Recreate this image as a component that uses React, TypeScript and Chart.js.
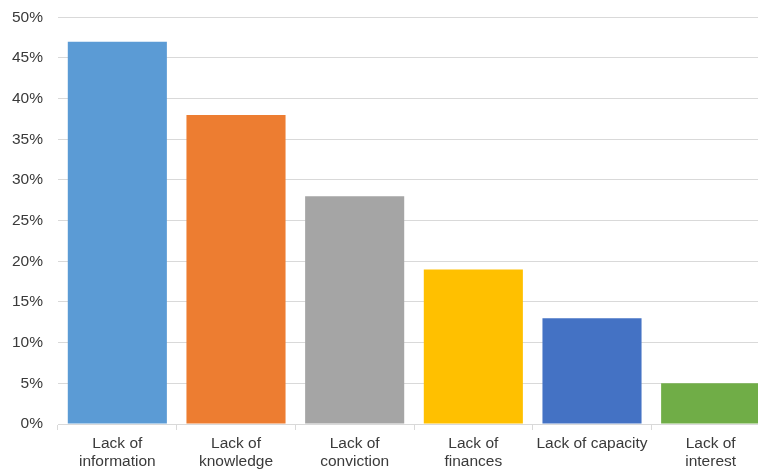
import React, { useEffect, useRef } from "react";
import { Chart, registerables } from "chart.js";

Chart.register(...registerables);

const categories: (string | string[])[] = [
  ["Lack of", "information"],
  ["Lack of", "knowledge"],
  ["Lack of", "conviction"],
  ["Lack of", "finances"],
  "Lack of capacity",
  ["Lack of", "interest"],
];
const values = [47, 38, 28, 19, 13, 5];
const barColors = ["#5B9BD5", "#ED7D31", "#A5A5A5", "#FFC000", "#4472C4", "#70AD47"];
const yMax = 50;
const yStep = 5;

export default function App() {
  const ref = useRef<HTMLCanvasElement>(null);
  useEffect(() => {
    document.body.style.margin = "0";
    document.body.style.overflow = "hidden";
    const ctx = ref.current!;
    const chart = new Chart(ctx, {
      type: "bar",
      data: {
        labels: categories,
        datasets: [
          {
            data: values,
            backgroundColor: barColors,
            borderWidth: 0,
            categoryPercentage: 0.835,
            barPercentage: 1,
          },
        ],
      },
      options: {
        animation: false,
        responsive: false,
        maintainAspectRatio: false,
        layout: { padding: { top: 10, right: 0, left: 0, bottom: 0 } },
        plugins: { legend: { display: false }, tooltip: { enabled: false } },
        scales: {
          x: {
            grid: {
              offset: true,
              drawOnChartArea: false,
              drawTicks: true,
              tickLength: 6,
              color: "#d9d9d9",
            },
            border: { display: true, color: "#d9d9d9" },
            ticks: {
              color: "#3a3a3a",
              font: { family: "'Liberation Sans', Arial, sans-serif", size: 15.5 },
              padding: 4,
              maxRotation: 0,
              autoSkip: false,
            },
            afterFit: (s: any) => {
              s.height = 48;
            },
          },
          y: {
            min: 0,
            max: yMax,
            grid: { color: "#d9d9d9", drawTicks: false },
            border: { display: false },
            ticks: {
              stepSize: yStep,
              color: "#3a3a3a",
              font: { family: "'Liberation Sans', Arial, sans-serif", size: 15.5 },
              padding: 15,
              callback: (v: any) => v + "%",
            },
            afterFit: (s: any) => {
              s.width = 58;
            },
          },
        },
      },
    });
    return () => chart.destroy();
  }, []);
  return (
    <div style={{ position: "fixed", left: 0, top: 0, width: 758, height: 469, overflow: "hidden" }}>
      <canvas
        ref={ref}
        width={770}
        height={479}
        style={{ width: 770, height: 479, display: "block", marginTop: -7 }}
      />
    </div>
  );
}
